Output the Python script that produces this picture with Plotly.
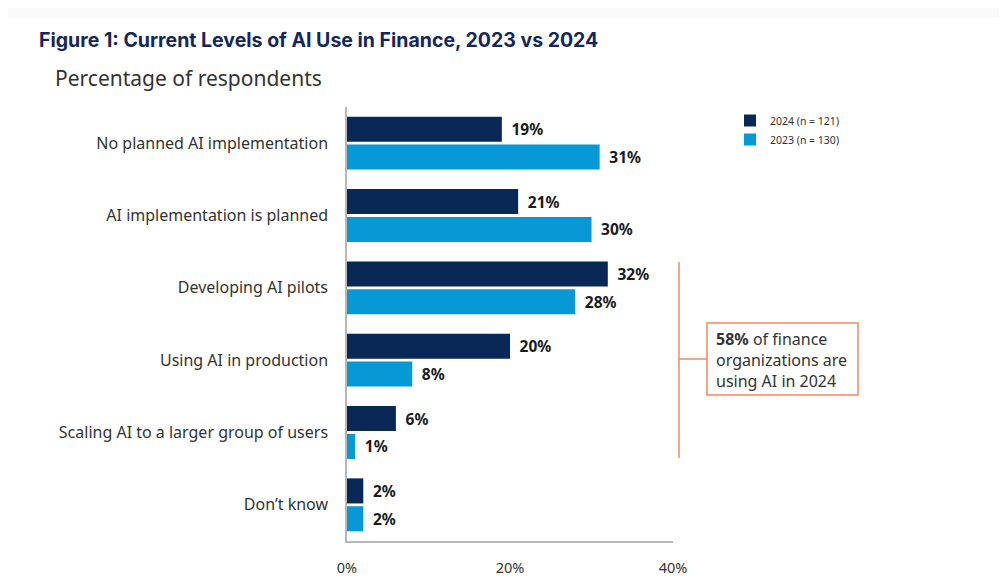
import plotly.graph_objects as go

categories = ["No planned AI implementation", "AI implementation is planned",
              "Developing AI pilots", "Using AI in production",
              "Scaling AI to a larger group of users", "Don\u2019t know"]
vals_2024 = [19, 21, 32, 20, 6, 2]
vals_2023 = [31, 30, 28, 8, 1, 2]
series_names = ["2024 (n = 121)", "2023 (n = 130)"]
tick_vals = [0, 20, 40]
tick_text = ["0%", "20%", "40%"]

FONT = "Noto Sans"
OFF = 8  # page body margin
W, H = 1007, 583
L, R, T, B = 347, 673, 107, 541

def px_x(p):
    return (p - L) / (R - L)

def px_y(p):
    return (B - p) / (B - T)

fig = go.Figure()
for name, vals, col in [(series_names[0], vals_2024, "#0a2856"),
                        (series_names[1], vals_2023, "#0798d6")]:
    fig.add_trace(go.Bar(
        y=categories, x=vals, name=name, orientation="h",
        marker=dict(color=col, line=dict(width=0)),
        text=[f"\u2009 <b>{v}%</b>" for v in vals], textposition="outside",
        textfont=dict(family=FONT, size=15.5, color="#1a1a1a"),
        cliponaxis=False, hoverinfo="x+y",
    ))

orange = "#f8875d"
shapes = [
    dict(type="line", xref="paper", yref="paper", x0=px_x(679), x1=px_x(679),
         y0=px_y(262), y1=px_y(458), line=dict(color=orange, width=1.5)),
    dict(type="line", xref="paper", yref="paper", x0=px_x(679), x1=px_x(707),
         y0=px_y(359), y1=px_y(359), line=dict(color=orange, width=1.5)),
    dict(type="rect", xref="paper", yref="paper", x0=px_x(707), x1=px_x(858),
         y0=px_y(395), y1=px_y(323), line=dict(color=orange, width=1.5)),
    dict(type="rect", xref="paper", yref="paper", x0=px_x(OFF), x1=px_x(W - OFF),
         y0=px_y(OFF), y1=px_y(18), line=dict(width=0), fillcolor="#fafafa", layer="below"),
]

annotations = [
    dict(xref="paper", yref="paper", x=px_x(37), y=px_y(40), xanchor="left", yanchor="middle",
         text="<b>Figure 1: Current Levels of AI Use in Finance, 2023 vs 2024</b>",
         showarrow=False, font=dict(family="Inter", size=19.5, color="#14275a")),
    dict(xref="paper", yref="paper", x=px_x(53), y=px_y(78), xanchor="left", yanchor="middle",
         text="Percentage of respondents", showarrow=False,
         font=dict(family=FONT, size=21, color="#333333")),
    dict(xref="paper", yref="paper", x=px_x(714), y=px_y(360), xanchor="left", yanchor="middle",
         text="<b>58%</b> of finance<br>organizations are<br>using AI in 2024",
         align="left", showarrow=False,
         font=dict(family=FONT, size=16, color="#333333")),
]

fig.update_layout(
    width=W - 2 * OFF, height=H - OFF,
    margin=dict(l=L - OFF, r=W - OFF - R, t=T - OFF, b=H - B, autoexpand=False),
    paper_bgcolor="white", plot_bgcolor="white",
    barmode="group", bargap=0.23, bargroupgap=0.1,
    showlegend=True,
    legend=dict(x=px_x(730), y=px_y(106), xanchor="left", yanchor="top",
                font=dict(family=FONT, size=10.5, color="#333333"),
                itemwidth=30, tracegroupgap=0, bgcolor="rgba(0,0,0,0)"),
    xaxis=dict(range=[0, 40], tickvals=tick_vals, ticktext=tick_text, automargin=False,
               showgrid=False, zeroline=False, showline=True, linecolor="#b8b8b8",
               linewidth=1.5, ticks="", ticklabelstandoff=13,
               tickfont=dict(family=FONT, size=14.5, color="#333333")),
    yaxis=dict(autorange="reversed", showgrid=False, zeroline=False, automargin=False,
               showline=True, linecolor="#b8b8b8", linewidth=1.5, ticks="",
               ticklabelstandoff=14,
               tickfont=dict(family=FONT, size=16, color="#333333")),
    shapes=shapes, annotations=annotations,
)

fig.write_html("out.html")
